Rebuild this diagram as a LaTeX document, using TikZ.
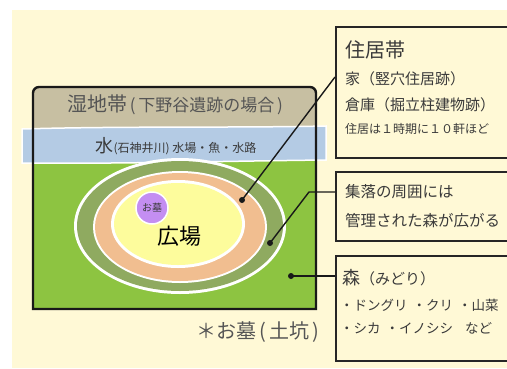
\documentclass[tikz,border=0pt]{standalone}
\usepackage{fontspec}
\setmainfont{Noto Sans CJK JP}
\definecolor{cream}{HTML}{FFF9D6}
\definecolor{marsh}{HTML}{C7BFA2}
\definecolor{water}{HTML}{B4CBE4}
\definecolor{forest}{HTML}{8DC441}
\definecolor{ringg}{HTML}{8FAA60}
\definecolor{ringo}{HTML}{F1BE90}
\definecolor{plaza}{HTML}{FDFC9C}
\definecolor{grave}{HTML}{C48EF2}
\definecolor{txt}{HTML}{3A3A3A}
\definecolor{gtxt}{HTML}{555555}
\tikzset{
  infobox/.style={draw=black!85, line width=1.6pt, fill=cream},
  boxtext/.style={anchor=west, inner sep=0pt, text=txt},
  link/.style={draw=black!90, line width=1.4pt},
  dot/.style={circle, fill=black!90, inner sep=0pt, minimum size=6pt},
}
\begin{document}
\begin{tikzpicture}[x=1pt,y=-1pt]
\useasboundingbox (0,0) rectangle (507,368);
\clip (0,0) rectangle (507,368);
\fill[white] (0,0) rectangle (507,368);
\fill[cream] (12,10) rectangle (507,368);
% main area
\fill[forest] (33,125) rectangle (316,309);
\fill[marsh,rounded corners=6pt] (33,140) -- (33,87) -- (316,87) -- (316,140) -- cycle;
% water band
\draw[white, line width=1.5pt, fill=water] (22,129) .. controls (120,126) and (230,128) .. (326,126)
  -- (326,160) .. controls (230,161) and (120,164) .. (22,163) -- cycle;
% ellipses
\fill[white] (180,226) ellipse [x radius=106, y radius=68];
\fill[ringg] (180,226) ellipse [x radius=103, y radius=65];
\fill[white] (180,227) ellipse [x radius=87, y radius=56];
\fill[ringo] (180,227) ellipse [x radius=85, y radius=54];
\fill[white] (178,224) ellipse [x radius=67, y radius=44];
\fill[plaza] (178,224) ellipse [x radius=64, y radius=41];
\node[circle, fill=grave, draw=white, line width=1.5pt, minimum size=32pt, inner sep=0pt, font=\fontsize{10}{10}\selectfont, text=txt] (grave) at (152,208) {お墓};
\node[font=\fontsize{22}{22}\selectfont, text=black] (plazatext) at (179,236) {広場};
% main border
\draw[black!90, line width=2.4pt] (33,309) -- (33,93) arc[start angle=180, end angle=270, radius=6] -- (310,87) arc[start angle=270, end angle=360, radius=6] -- (316,309) -- cycle;
\node[text=gtxt, inner sep=0pt] (marshtext) at (175,105) {\fontsize{20}{20}\selectfont 湿地帯\fontsize{17}{17}\selectfont\,(\,下野谷遺跡の場合\,)};
\node[text=txt, inner sep=0pt] (watertext) at (176,146) {\fontsize{18}{18}\selectfont 水\fontsize{12}{12}\selectfont (石神井川) 水場・魚・水路};
\node[text=gtxt, inner sep=0pt] (note) at (258,332) {\fontsize{20}{20}\selectfont ＊お墓\,(\,土坑\,)};
% info boxes
\node[infobox, minimum width=190pt, minimum height=131pt, anchor=north west] (box1) at (335,26) {};
\node[infobox, minimum width=190pt, minimum height=69pt, anchor=north west] (box2) at (335,171) {};
\node[infobox, minimum width=190pt, minimum height=105pt, anchor=north west] (box3) at (335,255) {};
\node[boxtext, font=\fontsize{20}{20}\selectfont] (t11) at (345,50) {住居帯};
\node[boxtext, font=\fontsize{15}{15}\selectfont] (t12) at (345,79) {家（竪穴住居跡）};
\node[boxtext, font=\fontsize{15}{15}\selectfont] (t13) at (345,105) {倉庫（掘立柱建物跡）};
\node[boxtext, font=\fontsize{12}{12}\selectfont] (t14) at (345,129) {住居は１時期に１０軒ほど};
\node[boxtext, font=\fontsize{15.5}{15.5}\selectfont] (t21) at (345,192) {集落の周囲には};
\node[boxtext, font=\fontsize{15.5}{15.5}\selectfont] (t22) at (345,221) {管理された森が広がる};
\node[boxtext] (t31) at (342,278) {\fontsize{18}{18}\selectfont 森\fontsize{15}{15}\selectfont（みどり）};
\node[boxtext, font=\fontsize{13.5}{13.5}\selectfont] (t32) at (340,305) {・ドングリ\hspace{5pt}・クリ\hspace{5pt}・山菜};
\node[boxtext, font=\fontsize{13.5}{13.5}\selectfont] (t33) at (340,328) {・シカ\hspace{5pt}・イノシシ\hspace{12pt}など};
% connectors
\node[dot] (d1) at (242,200) {};
\node[dot] (d2) at (270,243) {};
\node[dot] (d3) at (291,276) {};
\coordinate (b1) at (335,77);
\coordinate (b2) at (335,192);
\coordinate (b3) at (335,276);
\coordinate (k2) at (309,192);
\draw[link] (b1) -- (d1.center);
\draw[link] (b2) -- (k2) -- (d2.center);
\draw[link] (b3) -- (d3.center);
\end{tikzpicture}
\end{document}
